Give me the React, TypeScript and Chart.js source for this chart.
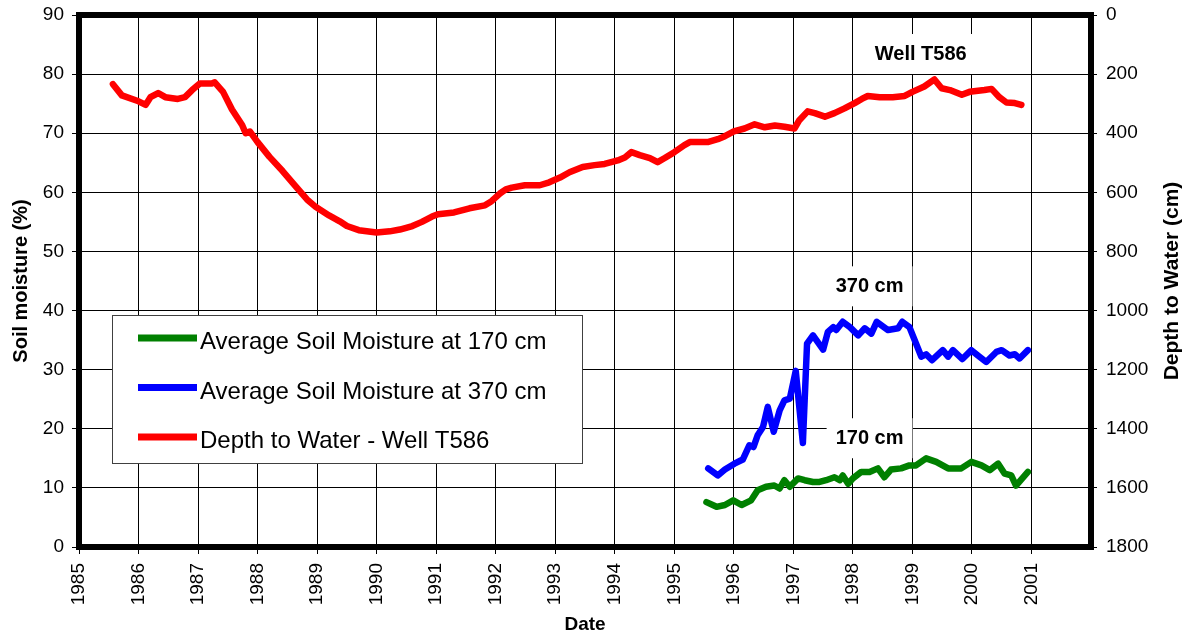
import React, { useEffect, useRef } from "react";
import { Chart, registerables } from "chart.js";

Chart.register(...registerables);

const FONT = '"Liberation Sans", Arial, Helvetica, sans-serif';

// ---- data ----
const xTickYears = [1985, 1986, 1987, 1988, 1989, 1990, 1991, 1992, 1993, 1994, 1995, 1996, 1997, 1998, 1999, 2000, 2001];

const seriesLabels = [
  "Average Soil Moisture at 170 cm",
  "Average Soil Moisture at 370 cm",
  "Depth to Water - Well T586",
];

const redYears = [
  1985.57, 1985.72, 1986.0, 1986.12, 1986.2, 1986.33, 1986.45, 1986.66, 1986.78, 1986.9,
  1987.03, 1987.23, 1987.28, 1987.42, 1987.57, 1987.74, 1987.8, 1987.87, 1988.0, 1988.2,
  1988.42, 1988.64, 1988.83, 1988.98, 1989.2, 1989.38, 1989.5, 1989.7, 1990.0, 1990.22,
  1990.39, 1990.6, 1990.76, 1990.93, 1991.03, 1991.3, 1991.56, 1991.82, 1991.93, 1992.07,
  1992.17, 1992.27, 1992.49, 1992.74, 1992.9, 1993.08, 1993.24, 1993.46, 1993.66, 1993.83,
  1994.05, 1994.17, 1994.28, 1994.42, 1994.59, 1994.72, 1994.84, 1995.0, 1995.17, 1995.26,
  1995.43, 1995.56, 1995.73, 1995.85, 1996.0, 1996.18, 1996.35, 1996.52, 1996.69, 1996.85,
  1997.02, 1997.1, 1997.24, 1997.36, 1997.53, 1997.69, 1997.86, 1998.03, 1998.15, 1998.25,
  1998.45, 1998.67, 1998.87, 1999.0, 1999.2, 1999.37, 1999.49, 1999.63, 1999.83, 1999.96,
  2000.21, 2000.33, 2000.46, 2000.58, 2000.72, 2000.83,
];
const redDepth = [
  234, 272, 292, 304, 278, 264, 278, 284, 278, 254,
  232, 232, 228, 260, 320, 372, 400, 394, 430, 480,
  528, 580, 624, 650, 678, 698, 714, 728, 736, 732,
  726, 714, 700, 682, 674, 668, 654, 644, 630, 604,
  590, 584, 576, 576, 566, 550, 532, 514, 508, 504,
  492, 482, 464, 474, 484, 498, 484, 464, 440, 430,
  430, 430, 420, 410, 394, 384, 370, 380, 374, 378,
  384, 356, 326, 332, 344, 332, 316, 298, 284, 274,
  278, 278, 274, 260, 242, 218, 248, 254, 270, 260,
  254, 250, 278, 296, 298, 304,
];

const blueYears = [
  1995.57, 1995.73, 1995.85, 1996.01, 1996.15, 1996.26, 1996.33, 1996.4, 1996.49, 1996.57,
  1996.67, 1996.77, 1996.85, 1996.94, 1997.04, 1997.16, 1997.23, 1997.33, 1997.5, 1997.58,
  1997.67, 1997.72, 1997.83, 1997.95, 1998.09, 1998.2, 1998.31, 1998.4, 1998.59, 1998.76,
  1998.83, 1998.95, 1999.15, 1999.23, 1999.33, 1999.51, 1999.6, 1999.68, 1999.84, 1999.99,
  2000.1, 2000.24, 2000.41, 2000.5, 2000.63, 2000.72, 2000.8, 2000.94,
];
const blueMoisture = [
  13.3, 12.1, 13.1, 14.1, 14.8, 17.2, 16.9, 18.9, 20.3, 23.7,
  19.5, 23.1, 24.8, 25.1, 29.8, 17.6, 34.4, 35.8, 33.4, 36.4,
  37.2, 36.7, 38.1, 37.2, 35.8, 37.0, 36.1, 38.1, 36.7, 37.0,
  38.1, 37.2, 32.2, 32.6, 31.6, 33.3, 32.2, 33.3, 31.8, 33.3,
  32.4, 31.3, 33.0, 33.3, 32.4, 32.6, 31.9, 33.3,
];

const greenYears = [
  1995.54, 1995.71, 1995.85, 1995.99, 1996.13, 1996.29, 1996.4, 1996.54, 1996.68, 1996.77,
  1996.85, 1996.94, 1997.08, 1997.19, 1997.33, 1997.44, 1997.55, 1997.69, 1997.78, 1997.83,
  1997.92, 1998.0, 1998.14, 1998.28, 1998.42, 1998.53, 1998.64, 1998.81, 1998.95, 1999.06,
  1999.23, 1999.4, 1999.6, 1999.82, 1999.99, 2000.16, 2000.3, 2000.44, 2000.55, 2000.66,
  2000.74, 2000.94,
];
const greenMoisture = [
  7.6, 6.8, 7.1, 7.9, 7.1, 7.9, 9.6, 10.2, 10.4, 9.9,
  11.3, 10.2, 11.6, 11.3, 11.0, 11.0, 11.3, 11.8, 11.3, 12.1,
  10.7, 11.6, 12.7, 12.7, 13.3, 11.8, 13.1, 13.3, 13.8, 13.8,
  15.0, 14.4, 13.3, 13.3, 14.4, 13.8, 13.0, 14.1, 12.4, 12.1,
  10.4, 12.7,
];

const annotationTexts = ["Well T586", "370 cm", "170 cm"];
const annotationYears = [1999.14, 1998.28, 1998.28];
const annotationMoisture = [83.4, 44.1, 18.4];

const leftTitle = "Soil moisture (%)";
const rightTitle = "Depth to Water (cm)";
const bottomTitle = "Date";

const seriesColors = ["#008000", "#0000FF", "#FF0000"];

const overlayPlugin = {
  id: "overlay",
  beforeDatasetsDraw(chart: any) {
    const ctx = chart.ctx;
    const xs = chart.scales.x;
    const ys = chart.scales.y;
    ctx.save();
    ctx.font = `bold 20px ${FONT}`;
    ctx.fillStyle = "#ffffff";
    annotationTexts.forEach((t, i) => {
      const cx = xs.getPixelForValue(annotationYears[i]);
      const cy = ys.getPixelForValue(annotationMoisture[i]);
      const w = ctx.measureText(t).width;
      ctx.fillRect(cx - w / 2 - 9, cy - 20, w + 18, 40);
    });
    ctx.restore();
  },
  afterDatasetsDraw(chart: any) {
    const ctx = chart.ctx;
    const xs = chart.scales.x;
    const ys = chart.scales.y;
    const a = chart.chartArea;
    ctx.save();

    // annotation texts
    ctx.font = `bold 20px ${FONT}`;
    ctx.fillStyle = "#000";
    ctx.textAlign = "center";
    ctx.textBaseline = "middle";
    annotationTexts.forEach((t, i) => {
      const cx = xs.getPixelForValue(annotationYears[i]);
      const cy = ys.getPixelForValue(annotationMoisture[i]);
      ctx.fillText(t, cx, cy);
    });

    // legend
    const lx = a.left + 33;
    const ly = a.top + 300;
    const lw = 470;
    const lh = 148;
    ctx.fillStyle = "#ffffff";
    ctx.fillRect(lx, ly, lw, lh);
    ctx.strokeStyle = "#404040";
    ctx.lineWidth = 1;
    ctx.strokeRect(lx + 0.5, ly + 0.5, lw, lh);
    ctx.font = `24px ${FONT}`;
    ctx.textAlign = "left";
    ctx.textBaseline = "alphabetic";
    seriesLabels.forEach((label, i) => {
      const yy = ly + 23 + i * 49.5;
      ctx.strokeStyle = seriesColors[i];
      ctx.lineWidth = 7;
      ctx.lineCap = "butt";
      ctx.beginPath();
      ctx.moveTo(lx + 26, yy);
      ctx.lineTo(lx + 85, yy);
      ctx.stroke();
      ctx.fillStyle = "#000";
      ctx.fillText(label, lx + 88, yy + 11);
    });

    // plot border
    ctx.strokeStyle = "#000";
    ctx.lineWidth = 6;
    ctx.strokeRect(a.left, a.top, a.right - a.left, a.bottom - a.top);

    // axis titles
    ctx.fillStyle = "#000";
    ctx.textAlign = "center";
    ctx.textBaseline = "middle";
    const midY = (a.top + a.bottom) / 2;
    ctx.font = `bold 20px ${FONT}`;
    ctx.save();
    ctx.translate(21, midY);
    ctx.rotate(-Math.PI / 2);
    ctx.fillText(leftTitle, 0, 0);
    ctx.restore();
    ctx.save();
    ctx.font = `bold 21px ${FONT}`;
    ctx.translate(1172, midY);
    ctx.rotate(-Math.PI / 2);
    ctx.fillText(rightTitle, 0, 0);
    ctx.restore();
    ctx.font = `bold 19px ${FONT}`;
    ctx.fillText(bottomTitle, (a.left + a.right) / 2, 625);

    ctx.restore();
  },
};

export default function App() {
  const canvasRef = useRef<HTMLCanvasElement | null>(null);

  useEffect(() => {
    const canvas = canvasRef.current;
    if (!canvas) return;
    Chart.defaults.font.family = FONT;
    const mk = (xsArr: number[], ysArr: number[]) => xsArr.map((x, i) => ({ x, y: ysArr[i] }));
    const common = {
      pointRadius: 0,
      borderWidth: 6.5,
      tension: 0,
      fill: false,
      borderJoinStyle: "round" as const,
      borderCapStyle: "round" as const,
    };
    const chart = new Chart(canvas, {
      type: "line",
      data: {
        datasets: [
          { ...common, label: seriesLabels[0], data: mk(greenYears, greenMoisture), borderColor: seriesColors[0], yAxisID: "y" },
          { ...common, label: seriesLabels[1], data: mk(blueYears, blueMoisture), borderColor: seriesColors[1], yAxisID: "y" },
          { ...common, label: seriesLabels[2], data: mk(redYears, redDepth), borderColor: seriesColors[2], yAxisID: "y2" },
        ],
      },
      options: {
        responsive: false,
        animation: false,
        layout: { padding: { top: 15, left: 0, right: 0, bottom: 0 } },
        plugins: {
          legend: { display: false },
          tooltip: { enabled: false },
          title: { display: false },
        },
        scales: {
          x: {
            type: "linear",
            min: 1985,
            max: 2002,
            afterBuildTicks: (s: any) => {
              s.ticks = xTickYears.map((v) => ({ value: v }));
            },
            afterFit: (s: any) => {
              s.height = 89;
              s.paddingLeft = 0;
              s.paddingRight = 0;
            },
            grid: { color: "#000", lineWidth: 1, drawTicks: true, tickLength: 7, tickColor: "#000" },
            border: { display: false },
            ticks: {
              color: "#000",
              font: { size: 19, family: FONT },
              minRotation: 90,
              maxRotation: 90,
              autoSkip: false,
              padding: 9,
              callback: (v: any) => String(v),
            },
          },
          y: {
            type: "linear",
            position: "left",
            min: 0,
            max: 90,
            afterFit: (s: any) => {
              s.width = 79;
              s.paddingTop = 0;
              s.paddingBottom = 0;
            },
            grid: { color: "#000", lineWidth: 1, drawTicks: true, tickLength: 7, tickColor: "#000" },
            border: { display: false },
            ticks: { stepSize: 10, color: "#000", font: { size: 19, family: FONT }, padding: 8, callback: (v: any) => String(v) },
          },
          y2: {
            type: "linear",
            position: "right",
            min: 0,
            max: 1800,
            reverse: true,
            afterFit: (s: any) => {
              s.width = 97;
              s.paddingTop = 0;
              s.paddingBottom = 0;
            },
            grid: { drawOnChartArea: false, drawTicks: true, tickLength: 6, tickColor: "#000", color: "#000" },
            border: { display: false },
            ticks: { stepSize: 200, color: "#000", font: { size: 19, family: FONT }, padding: 9, callback: (v: any) => String(v) },
          },
        },
      },
      plugins: [overlayPlugin],
    });
    return () => chart.destroy();
  }, []);

  return (
    <div style={{ position: "absolute", left: 0, top: 0, width: 1188, height: 636, background: "#fff" }}>
      <canvas ref={canvasRef} width={1188} height={636} style={{ display: "block" }} />
    </div>
  );
}
